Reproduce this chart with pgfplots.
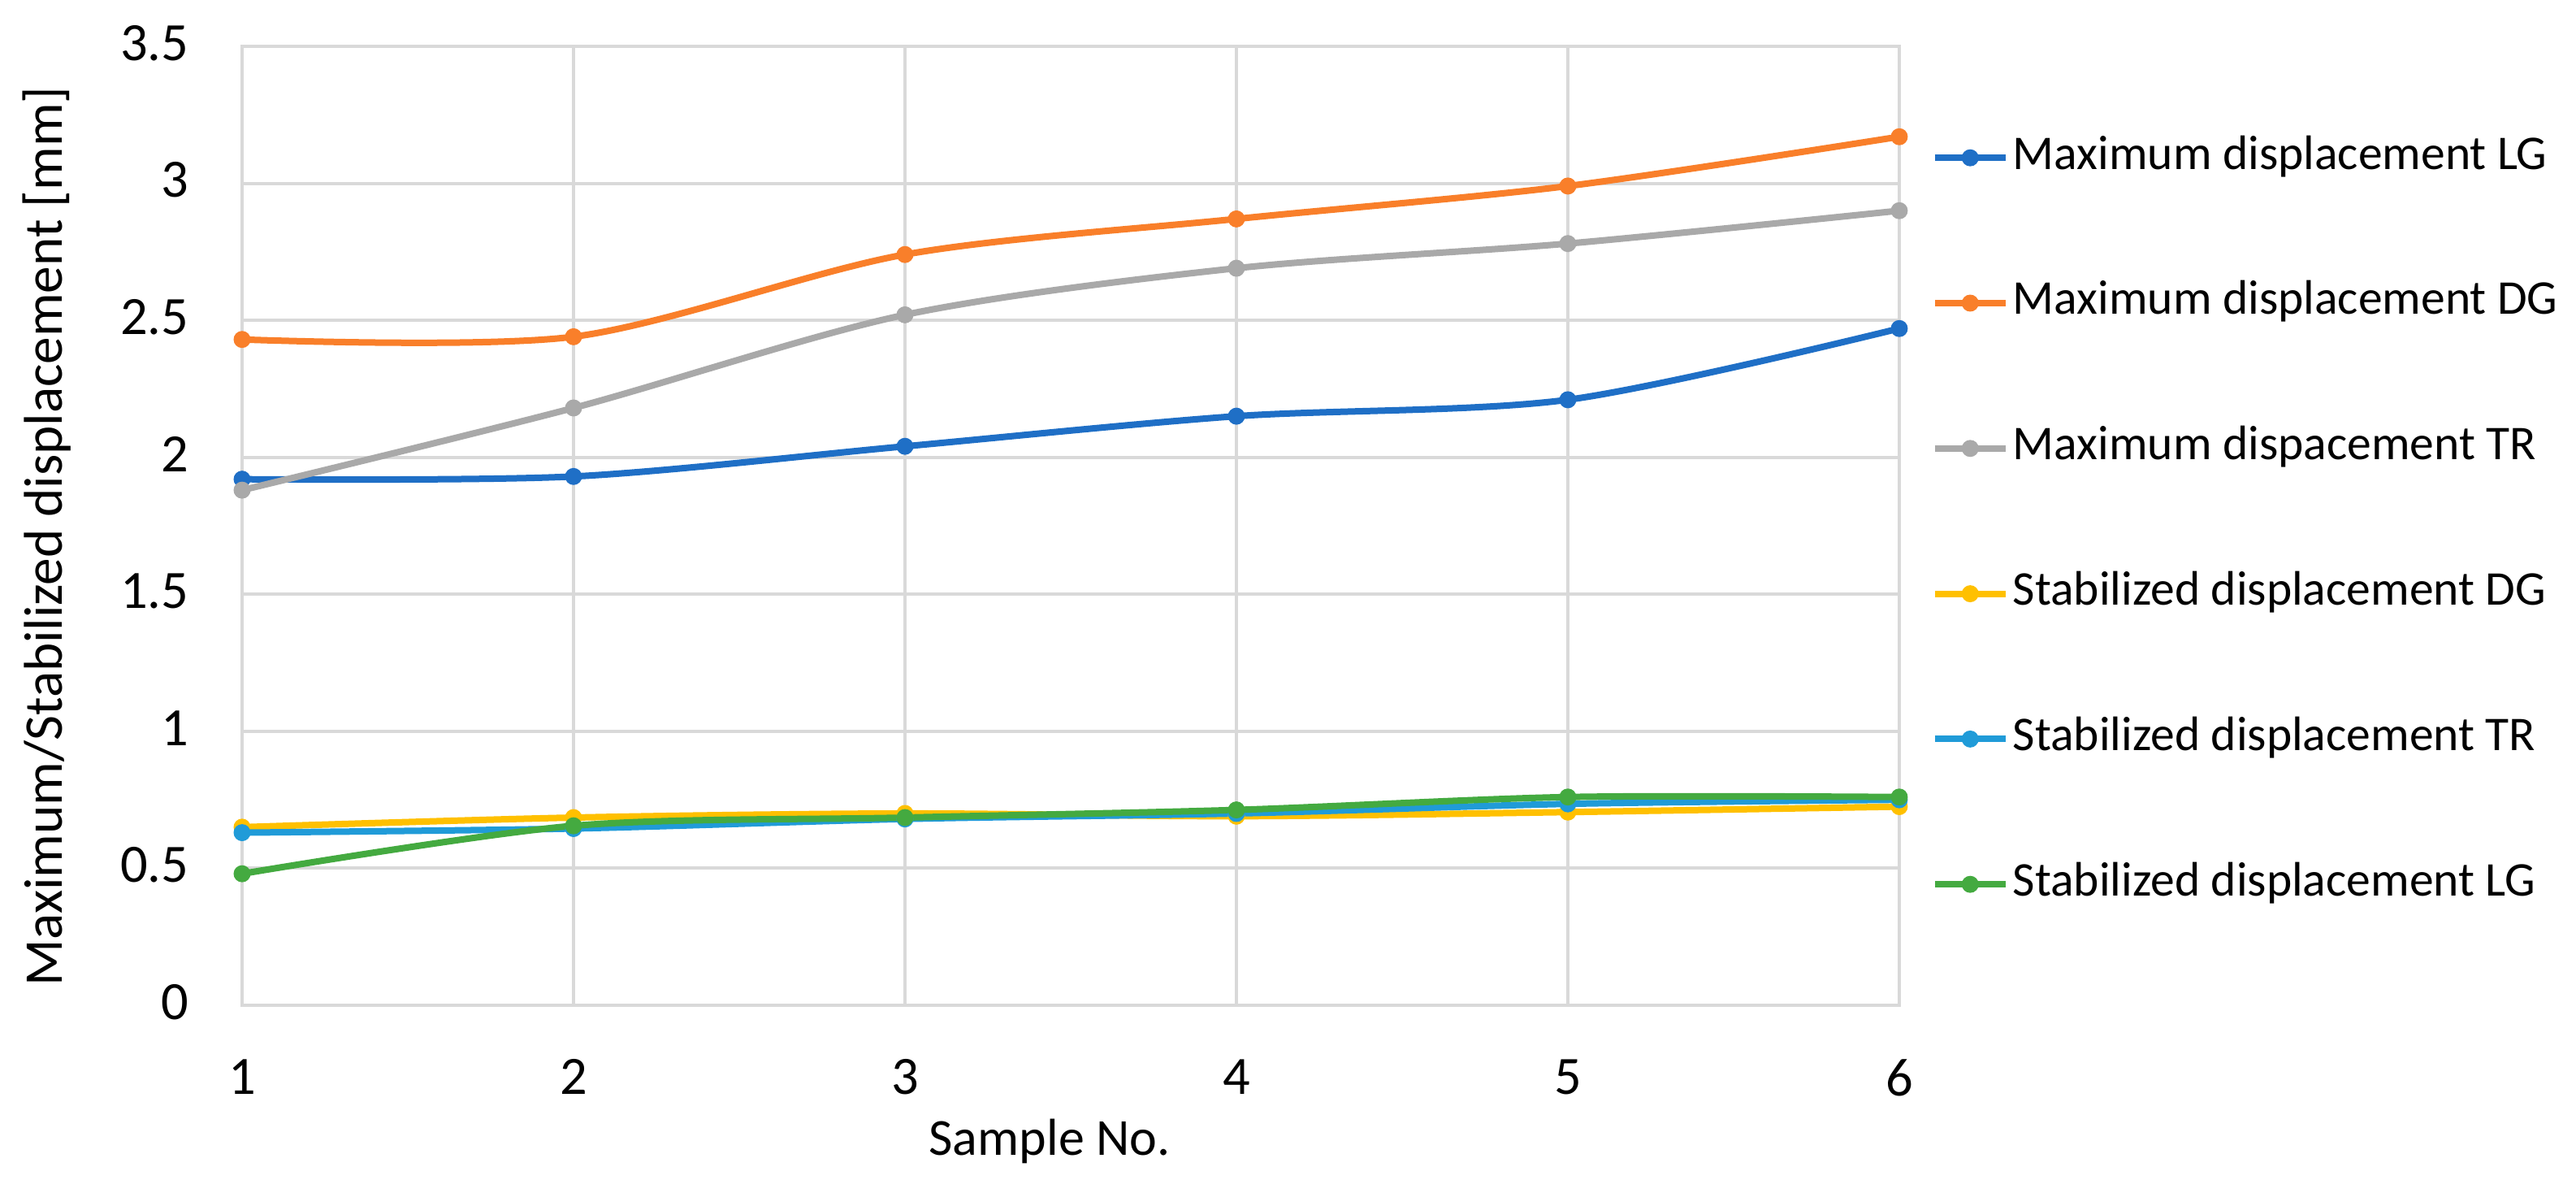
\documentclass[border=0pt]{standalone}
\usepackage{fontspec}
\setmainfont{Carlito}
\usepackage{pgfplots}
\pgfplotsset{compat=1.18}
\definecolor{gridc}{HTML}{D9D9D9}
\definecolor{cMaxLG}{HTML}{1F6FC6}
\definecolor{cMaxDG}{HTML}{F97F2A}
\definecolor{cMaxTR}{HTML}{A9A9A9}
\definecolor{cStDG}{HTML}{FFC000}
\definecolor{cStTR}{HTML}{209BD8}
\definecolor{cStLG}{HTML}{44AA40}
\begin{document}
\begin{tikzpicture}
\begin{axis}[
  at={(0,0)}, anchor=south west,
  scale only axis, width=510pt, height=295pt,
  xmin=1, xmax=6, ymin=0, ymax=3.5,
  xtick={1,2,3,4,5,6}, ytick={0,0.5,1,1.5,2,2.5,3,3.5},
  grid=major, grid style={draw=gridc, line width=1pt},
  axis line style={draw=gridc, line width=1pt},
  major tick length=0pt, tick style={draw=none},
  clip=false,
  /pgf/number format/assume math mode=true,
  ticklabel style={font=\fontsize{16.6}{18}\selectfont, text=black},
  yticklabel style={anchor=east, inner sep=0pt, xshift=-16.25pt, yshift=1pt},
  xticklabel style={anchor=north, inner sep=0pt, yshift=-16.5pt},
  xlabel={Sample No.},
  ylabel={Maximum/Stabilized displacement [mm]},
  xlabel style={font=\fontsize{16}{18}\selectfont, at={(axis description cs:0.4873,-0.1178)}, anchor=north, inner sep=0pt},
  ylabel style={font=\fontsize{16.8}{18}\selectfont, at={(axis description cs:-0.10833,0.489)}, anchor=base, inner sep=0pt},
  legend style={at={(axis description cs:1,1)}, anchor=north west, xshift=9.75pt, yshift=-27.6pt,
    draw=none, fill=none, inner sep=0pt, row sep=31.7pt, column sep=1.25pt,
    nodes={inner sep=0pt, text height=10pt, text depth=3pt, font=\fontsize{14.9}{16}\selectfont}},
  legend cell align=left,
  legend image code/.code={\draw[mark repeat=2,mark phase=2,#1] plot coordinates {(0pt,0pt) (10.875pt,0pt) (21.75pt,0pt)};},
  every axis plot/.append style={line width=2pt, smooth, mark=*, mark size=1.6pt, mark options={solid}},
]
\addplot[cMaxLG] coordinates {(1,1.92) (2,1.93) (3,2.04) (4,2.15) (5,2.21) (6,2.47)};
\addlegendentry{Maximum displacement LG}
\addplot[cMaxDG] coordinates {(1,2.43) (2,2.44) (3,2.74) (4,2.87) (5,2.99) (6,3.17)};
\addlegendentry{Maximum displacement DG}
\addplot[cMaxTR] coordinates {(1,1.88) (2,2.18) (3,2.52) (4,2.69) (5,2.78) (6,2.90)};
\addlegendentry{Maximum dispacement TR}
\addplot[cStDG] coordinates {(1,0.65) (2,0.685) (3,0.70) (4,0.69) (5,0.705) (6,0.725)};
\addlegendentry{Stabilized displacement DG}
\addplot[cStTR] coordinates {(1,0.63) (2,0.645) (3,0.68) (4,0.70) (5,0.735) (6,0.75)};
\addlegendentry{Stabilized displacement TR}
\addplot[cStLG] coordinates {(1,0.48) (2,0.655) (3,0.685) (4,0.713) (5,0.76) (6,0.76)};
\addlegendentry{Stabilized displacement LG}
\end{axis}
\pgfresetboundingbox
\path[use as bounding box] (-74.5pt,-53.75pt) rectangle (718.25pt,309.25pt);
\end{tikzpicture}
\end{document}
